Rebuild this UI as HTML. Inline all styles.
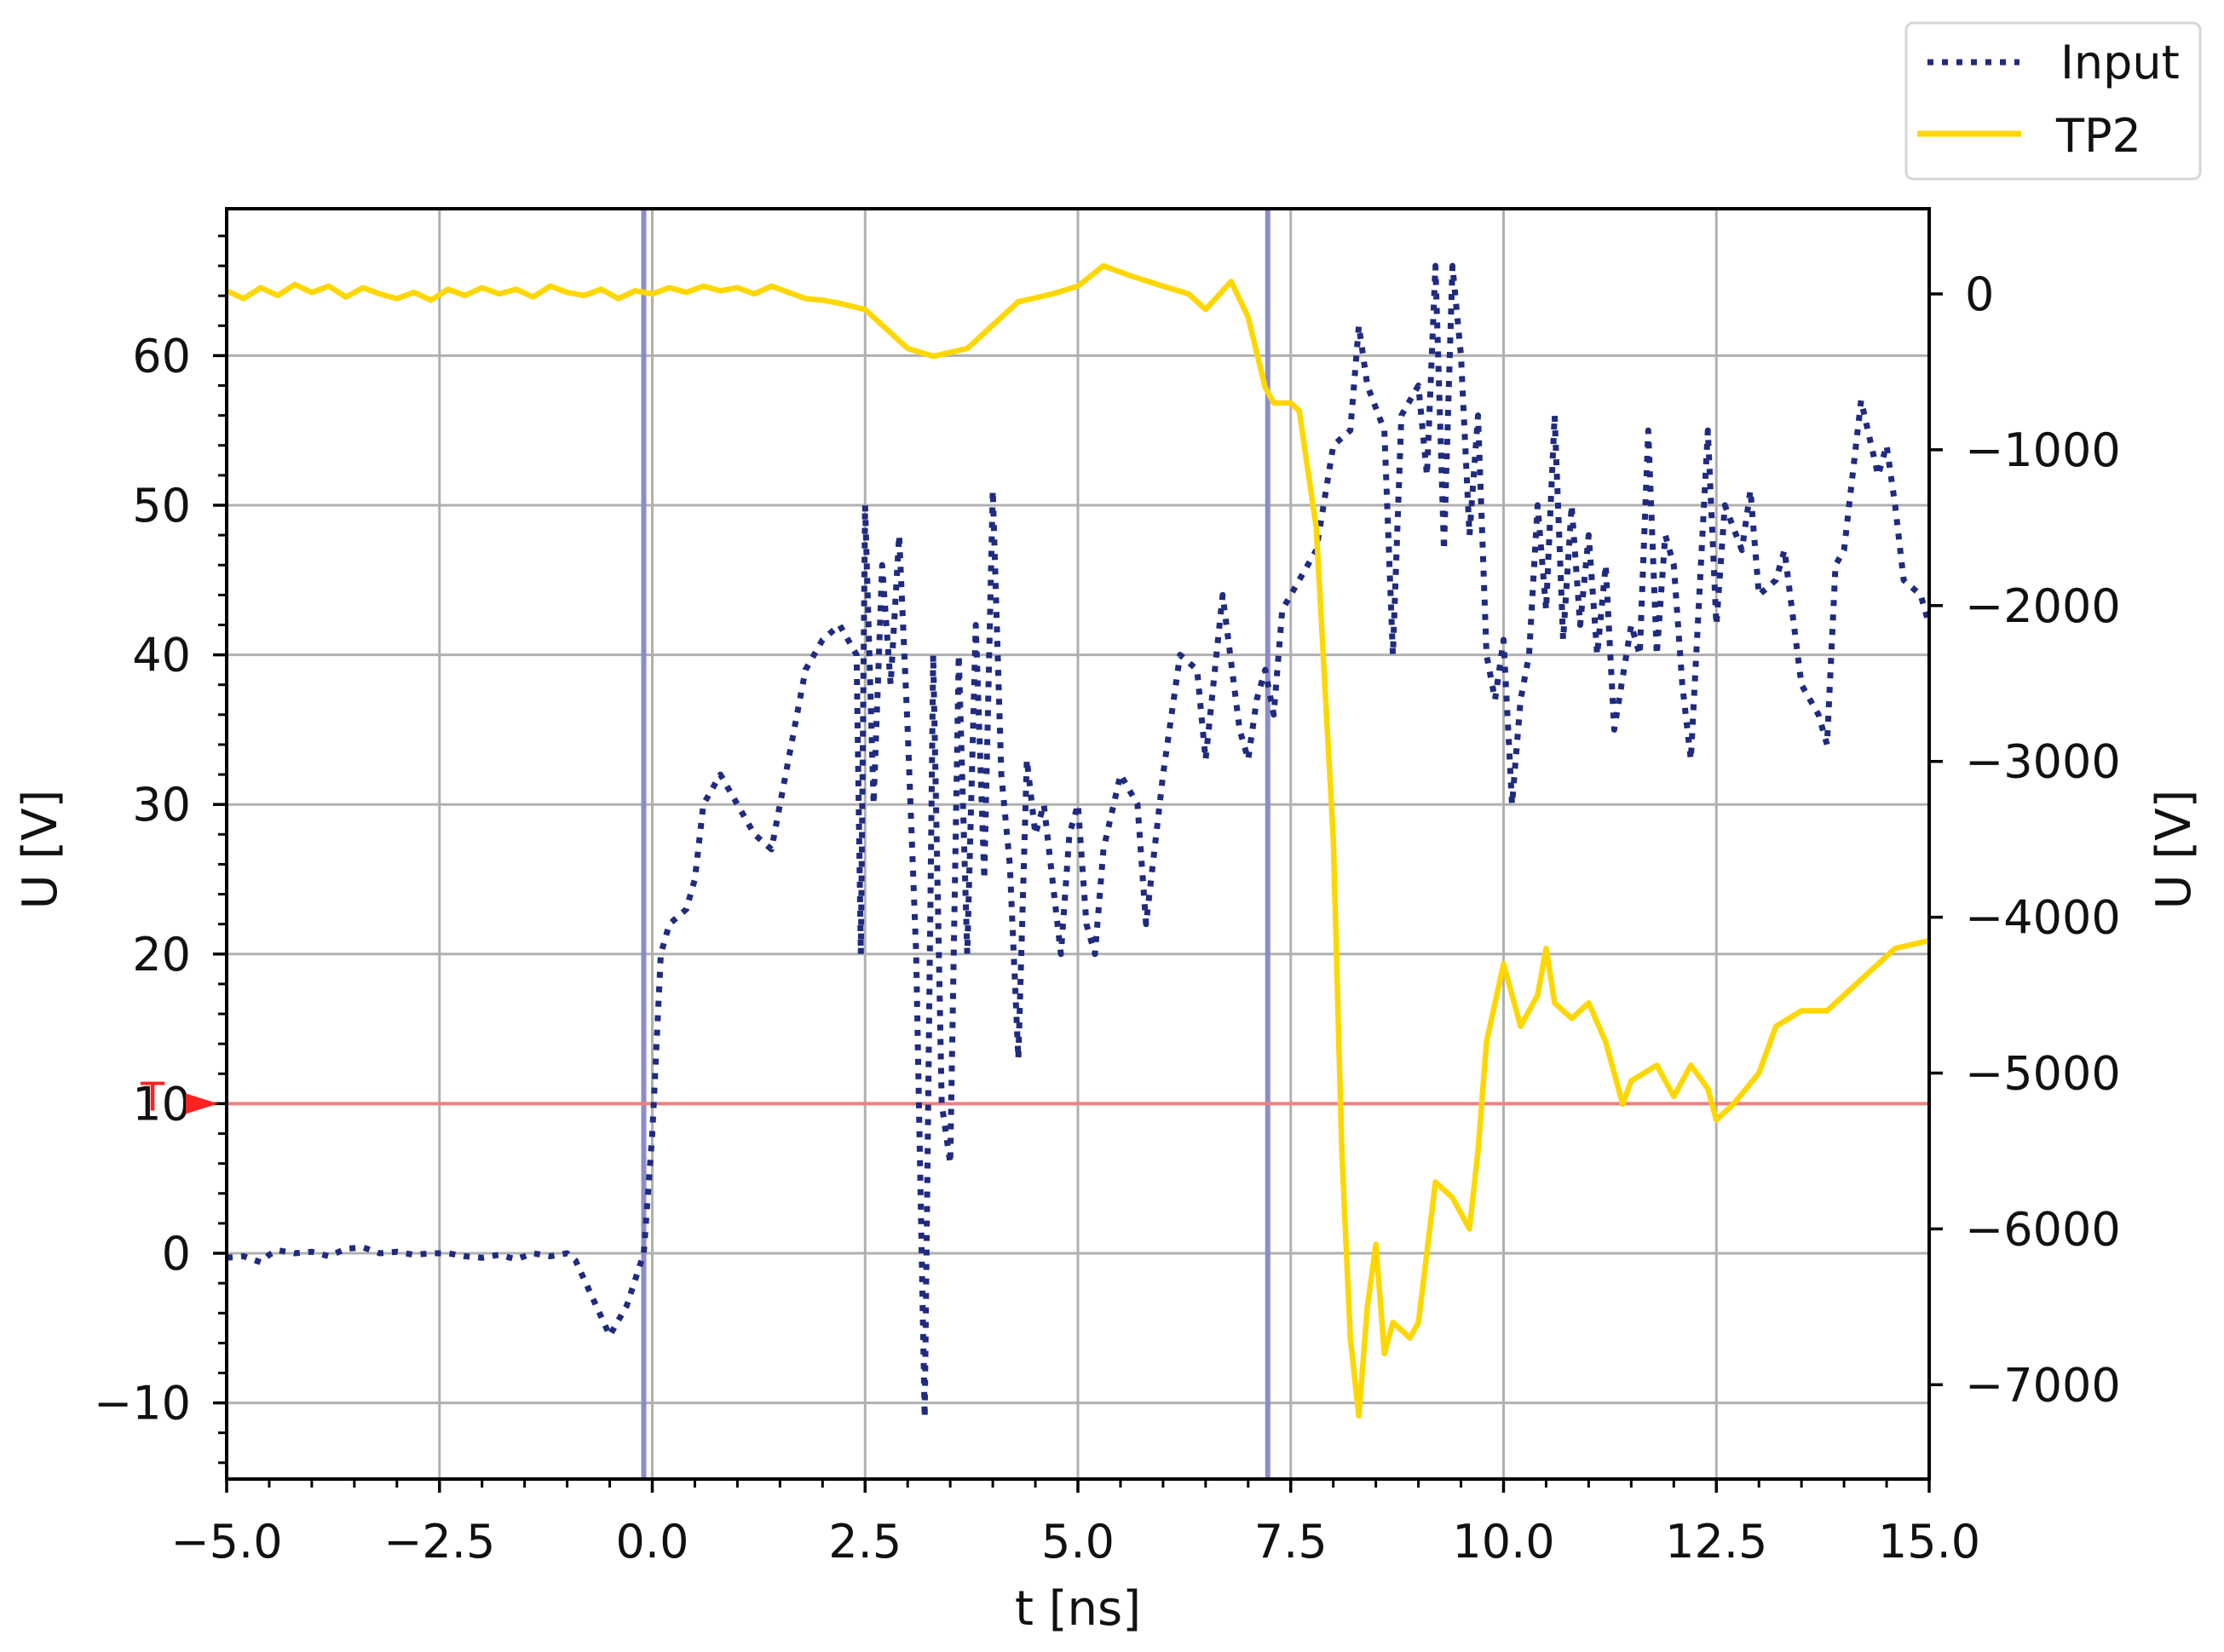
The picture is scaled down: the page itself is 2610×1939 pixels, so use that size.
<!DOCTYPE html>
<html><head><meta charset="utf-8"><style>
html,body{margin:0;padding:0;background:#fff;}
svg{display:block;font-family:"DejaVu Sans","Liberation Sans",sans-serif;}
</style></head><body>
<svg id="chart" width="2610" height="1939" viewBox="0 0 2610 1939" xmlns="http://www.w3.org/2000/svg"></svg>
<script>
const inputT=[-5,-4.8,-4.6,-4.5,-4.4,-4.2,-4,-3.8,-3.6,-3.4,-3.2,-3,-2.8,-2.6,-2.4,-2.2,-2,-1.8,-1.6,-1.4,-1.2,-1,-0.9,-0.7,-0.5,-0.3,-0.1,0,0.1,0.2,0.4,0.5,0.6,0.8,1.0,1.2,1.4,1.6,1.8,2.0,2.2,2.4,2.45,2.5,2.6,2.7,2.8,2.9,3.0,3.1,3.2,3.3,3.4,3.5,3.6,3.7,3.8,3.9,4.0,4.1,4.2,4.3,4.4,4.5,4.6,4.7,4.8,4.9,5.0,5.1,5.2,5.3,5.5,5.7,5.8,6.0,6.2,6.4,6.5,6.7,6.9,7.0,7.1,7.2,7.3,7.4,7.6,7.8,8.0,8.2,8.3,8.4,8.6,8.7,8.8,9.0,9.1,9.2,9.3,9.4,9.5,9.6,9.7,9.8,9.9,10.0,10.1,10.2,10.3,10.4,10.5,10.6,10.7,10.8,10.9,11.0,11.1,11.2,11.3,11.5,11.6,11.7,11.8,11.9,12.0,12.1,12.2,12.3,12.4,12.5,12.6,12.8,12.9,13.0,13.2,13.3,13.5,13.6,13.7,13.8,13.9,14.0,14.2,14.4,14.5,14.6,14.7,14.9,15.0];
const inputV=[-0.3,-0.2,-0.6,-0.1,0.2,0,0.1,-0.2,0.3,0.4,0,0.1,-0.1,0,0,-0.2,-0.3,-0.1,-0.4,0,-0.2,0,-0.5,-3,-5.5,-3.5,0,8,20,22,23,25,30,32,30,28,27,33,39,41,42,40,20,50,30,46,38,48,35,20,-11,40,10,6,40,20,42,25,51,32,26,13,33,28,30,25,20,28,30,22,20,27,32,30,22,32,40,39,33,44,35,33,37,39,36,43,45,47,54,55,62,58,55,40,56,58,52,66,47,66,60,48,56,40,37,41,30,37,40,50,43,56,41,50,42,48,40,46,35,42,40,55,40,48,46,38,33,44,55,42,50,47,51,44,45,47,38,37,36,34,46,47,57,52,54,50,45,44,42];
const tp2T=[-5,-4.8,-4.6,-4.4,-4.2,-4,-3.8,-3.6,-3.4,-3.2,-3,-2.8,-2.6,-2.4,-2.2,-2,-1.8,-1.6,-1.4,-1.2,-1,-0.8,-0.6,-0.4,-0.2,0,0.2,0.4,0.6,0.8,1,1.2,1.4,1.6,1.8,2,2.2,2.5,2.8,3.0,3.3,3.7,4.0,4.3,4.7,5.0,5.3,5.6,6.0,6.3,6.5,6.8,7.0,7.2,7.3,7.5,7.6,7.8,8.0,8.1,8.2,8.3,8.4,8.5,8.6,8.7,8.9,9.0,9.2,9.4,9.6,9.7,9.8,10.0,10.2,10.4,10.5,10.6,10.8,11.0,11.2,11.3,11.4,11.5,11.8,12.0,12.2,12.4,12.5,12.7,13.0,13.2,13.5,13.8,14.0,14.3,14.6,15.0];
const tp2V=[20,-30,40,-10,60,10,50,-20,40,0,-30,10,-40,30,-10,40,0,30,-20,50,10,-10,30,-30,20,0,40,10,50,20,40,0,50,10,-30,-40,-60,-100,-250,-350,-400,-350,-200,-50,0,50,180,120,50,0,-100,80,-150,-600,-700,-700,-750,-1500,-3500,-5500,-6700,-7200,-6500,-6100,-6800,-6600,-6700,-6600,-5700,-5800,-6000,-5500,-4800,-4300,-4700,-4500,-4200,-4550,-4650,-4550,-4800,-5000,-5200,-5050,-4950,-5150,-4950,-5100,-5300,-5200,-5000,-4700,-4600,-4600,-4500,-4350,-4200,-4150];
const xTicks=[-5,-2.5,0,2.5,5,7.5,10,12.5,15];
const xTickLabels=["\u22125.0","\u22122.5","0.0","2.5","5.0","7.5","10.0","12.5","15.0"];
const yTicks=[-10,0,10,20,30,40,50,60];
const yTickLabels=["\u221210","0","10","20","30","40","50","60"];
const y2Ticks=[0,-1000,-2000,-3000,-4000,-5000,-6000,-7000];
const y2TickLabels=["0","\u22121000","\u22122000","\u22123000","\u22124000","\u22125000","\u22126000","\u22127000"];
const cursors=[-0.1,7.23];
const trigger=[10];

const L=266,R=2264,T=245,B=1736;
const X=t=>L+(t+5)/20*(R-L);
const Y=v=>1471-v*17.56;
const Y2=v=>345-v*0.1829;
const svg=document.getElementById('chart');
const NS='http://www.w3.org/2000/svg';
function mk(tag,at,parent){const e=document.createElementNS(NS,tag);for(const k in at)e.setAttribute(k,at[k]);(parent||svg).appendChild(e);return e;}

const grid=mk('g',{});


xTicks.forEach(t=>{mk('line',{x1:X(t),x2:X(t),y1:T,y2:B,stroke:'#b0b0b0','stroke-width':3},grid);});
yTicks.forEach(v=>{mk('line',{x1:L,x2:R,y1:Y(v),y2:Y(v),stroke:'#b0b0b0','stroke-width':3},grid);});

cursors.forEach((c,i)=>{const l=mk('line',{x1:X(c),x2:X(c),y1:T,y2:B,stroke:'#8c8cc8','stroke-width':6});

});

const trig=mk('line',{x1:L,x2:R,y1:Y(trigger[0]),y2:Y(trigger[0]),stroke:'#f08080','stroke-width':4});



const ip=mk('polyline',{points:inputT.map((t,i)=>X(t)+','+Y(inputV[i])).join(' '),fill:'none',stroke:'#1f2a80','stroke-width':7,'stroke-dasharray':'7 10','stroke-linejoin':'round'});


const tp=mk('polyline',{points:tp2T.map((t,i)=>X(t)+','+Y2(tp2V[i])).join(' '),fill:'none',stroke:'#ffd700','stroke-width':6.5,'stroke-linejoin':'round'});



const fr=mk('rect',{x:L,y:T,width:R-L,height:B-T,fill:'none',stroke:'#000','stroke-width':4});



const ax=mk('g',{stroke:'#000','stroke-width':3.5});


xTicks.forEach(t=>mk('line',{x1:X(t),x2:X(t),y1:B,y2:B+16},ax));
for(let t=-5;t<=15.001;t+=0.5)mk('line',{x1:X(t),x2:X(t),y1:B,y2:B+10,'stroke-width':3},ax);
yTicks.forEach(v=>mk('line',{x1:L-16,x2:L,y1:Y(v),y2:Y(v)},ax));
for(let v=-14;v<=68;v+=2)mk('line',{x1:L-10,x2:L,y1:Y(v),y2:Y(v),'stroke-width':3},ax);
y2Ticks.forEach(v=>mk('line',{x1:R,x2:R+16,y1:Y2(v),y2:Y2(v)},ax));

xTicks.forEach((t,i)=>{const e=mk('text',{x:X(t),y:1828,'font-size':54,'text-anchor':'middle',fill:'#111'});e.textContent=xTickLabels[i];

});
yTicks.forEach((v,i)=>{const e=mk('text',{x:224,y:Y(v)+19,'font-size':54,'text-anchor':'end',fill:'#111'});e.textContent=yTickLabels[i];

});
y2Ticks.forEach((v,i)=>{const e=mk('text',{x:2306,y:Y2(v)+19,'font-size':54,fill:'#111'});e.textContent=y2TickLabels[i];

});

const tri=mk('polygon',{points:`${L-48},${Y(10)-12} ${L-10},${Y(10)} ${L-48},${Y(10)+12}`,fill:'#ff2020'});


const tt=mk('text',{x:165,y:Y(10)+8,'font-size':46,fill:'#ff2020'});tt.textContent='T';


</script>
<svg style="position:absolute;left:0;top:0" width="2610" height="1939">
<text x="1265" y="1907" font-size="56" text-anchor="middle" fill="#111" font-family="DejaVu Sans, Liberation Sans, sans-serif">t [ns]</text>
<text transform="translate(66,997) rotate(-90)" font-size="56" text-anchor="middle" fill="#111" font-family="DejaVu Sans, Liberation Sans, sans-serif">U [V]</text>
<text transform="translate(2570,997) rotate(-90)" font-size="56" text-anchor="middle" fill="#111" font-family="DejaVu Sans, Liberation Sans, sans-serif">U [V]</text>
<g>
<rect x="2237" y="27" width="345" height="183" rx="8" fill="#fff" stroke="#d6d6d6" stroke-width="3"/>
<line x1="2262" y1="73" x2="2370" y2="73" stroke="#1f2a80" stroke-width="7" stroke-dasharray="7 10"/>
<text x="2418" y="92" font-size="54" fill="#111" font-family="DejaVu Sans, Liberation Sans, sans-serif">Input</text>
<line x1="2250" y1="157" x2="2372" y2="157" stroke="#ffd700" stroke-width="7"/>
<text x="2413" y="178" font-size="54" fill="#111" font-family="DejaVu Sans, Liberation Sans, sans-serif">TP2</text>
</g>
</svg>
</body></html>
